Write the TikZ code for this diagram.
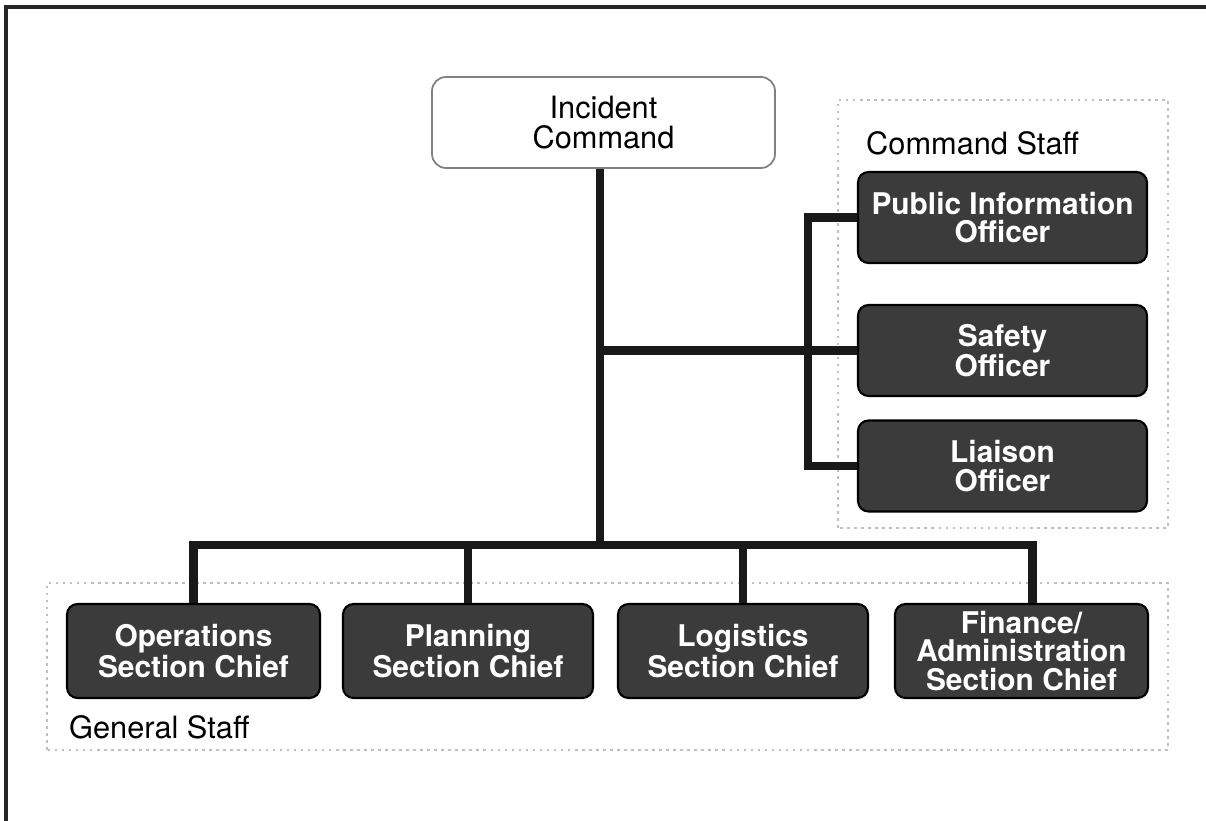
\documentclass[tikz,border=0pt]{standalone}
\usepackage{fontspec}
\setmainfont{TeX Gyre Heros}

\tikzstyle{chief}=[draw=black,line width=1.2pt,fill=black!77,rounded corners=6pt,text=white,font=\fontsize{17}{16.3}\selectfont\bfseries,align=center,inner sep=0pt]
\tikzstyle{link}=[line width=4.6pt,black!90]
\tikzstyle{group}=[draw=black!25,line width=0.8pt,dash pattern=on 1.5pt off 2.5pt]

\begin{document}
\begin{tikzpicture}
  \useasboundingbox (0,0) rectangle (24.12,16.42);
  \draw[line width=2pt,black!85] (0.12,0) -- (0.12,16.28) -- (24.12,16.28);

  \draw[group] (16.76,5.86) rectangle (23.36,14.42);
  \draw[group] (0.94,1.42) rectangle (23.36,4.76);
  \node[anchor=west,font=\fontsize{17.5}{18}\selectfont] (cs) at (17.2,13.56) {Command Staff};
  \node[anchor=west,font=\fontsize{17.5}{18}\selectfont] (gs) at (1.26,1.88) {General Staff};

  \node[draw=black!50,line width=1pt,rounded corners=8pt,fill=white,minimum width=6.86cm,minimum height=1.82cm,align=center,font=\fontsize{17.5}{17.5}\selectfont] (ic) at (12.07,13.97) {Incident\\Command};

  \node[chief,minimum width=5.78cm,minimum height=1.82cm] (pio) at (20.05,12.07) {Public Information\\Officer};
  \node[chief,minimum width=5.78cm,minimum height=1.82cm] (safe) at (20.05,9.41) {Safety\\Officer};
  \node[chief,minimum width=5.78cm,minimum height=1.82cm] (liai) at (20.05,7.10) {Liaison\\Officer};

  \node[chief,minimum width=5.06cm,minimum height=1.88cm] (ops) at (3.87,3.40) {Operations\\Section Chief};
  \node[chief,minimum width=5.0cm,minimum height=1.88cm] (plan) at (9.36,3.40) {Planning\\Section Chief};
  \node[chief,minimum width=5.0cm,minimum height=1.88cm] (log) at (14.86,3.40) {Logistics\\Section Chief};
  \node[chief,minimum width=5.06cm,minimum height=1.88cm] (fin) at (20.43,3.40) {Finance/\\Administration\\Section Chief};

  \coordinate (trunk) at (12.0,5.52);
  \coordinate (cbus) at (16.16,9.41);
  \coordinate (fintop) at ([xshift=0.22cm]fin.north);

  % command staff
  \draw[link] (ic.south -| trunk) -- (trunk);
  \draw[link] (safe.west -| trunk) -- (safe.west);
  \draw[link] (pio.west) -| (cbus) |- (liai.west);

  % general staff
  \draw[link] (ops.north) |- (trunk) -| (fintop);
  \draw[link] (plan.north) -- (plan.north |- trunk);
  \draw[link] (log.north) -- (log.north |- trunk);
\end{tikzpicture}
\end{document}
